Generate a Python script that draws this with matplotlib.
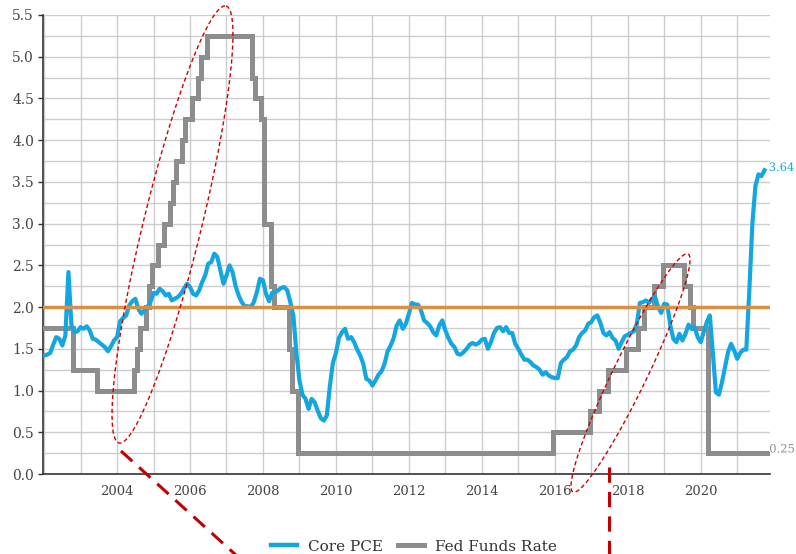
import numpy as np
import matplotlib
matplotlib.use("Agg")
import matplotlib.pyplot as plt
from matplotlib.lines import Line2D
import matplotlib.patheffects as pe

# ---- data -----------------------------------------------------------------
start_year = 2002  # first monthly observation: January 2002

# Core PCE inflation, year over year (%), monthly from Jan 2002
core_pce = [
    1.42, 1.43, 1.45, 1.55, 1.64, 1.62, 1.54, 1.66, 2.42, 1.78, 1.70, 1.71,  # 2002
    1.76, 1.74, 1.77, 1.72, 1.62, 1.61, 1.58, 1.55, 1.52, 1.47, 1.53, 1.60,  # 2003
    1.64, 1.83, 1.87, 1.90, 2.02, 2.07, 2.10, 1.98, 1.92, 1.96, 2.00, 2.06,  # 2004
    2.17, 2.16, 2.22, 2.19, 2.14, 2.16, 2.08, 2.10, 2.12, 2.16, 2.22, 2.28,  # 2005
    2.24, 2.16, 2.14, 2.20, 2.30, 2.38, 2.52, 2.54, 2.64, 2.60, 2.44, 2.28,  # 2006
    2.38, 2.50, 2.42, 2.25, 2.14, 2.06, 2.01, 2.01, 2.00, 2.06, 2.18, 2.34,  # 2007
    2.32, 2.16, 2.07, 2.17, 2.18, 2.20, 2.23, 2.24, 2.20, 2.06, 1.90, 1.45,  # 2008
    1.12, 0.95, 0.90, 0.78, 0.90, 0.86, 0.76, 0.67, 0.64, 0.70, 1.05, 1.33,  # 2009
    1.45, 1.63, 1.70, 1.74, 1.62, 1.64, 1.58, 1.49, 1.42, 1.32, 1.14, 1.12,  # 2010
    1.06, 1.12, 1.19, 1.23, 1.32, 1.47, 1.54, 1.63, 1.78, 1.84, 1.74, 1.80,  # 2011
    1.92, 2.05, 2.03, 2.03, 1.96, 1.84, 1.81, 1.77, 1.70, 1.66, 1.78, 1.84,  # 2012
    1.72, 1.63, 1.56, 1.52, 1.44, 1.43, 1.46, 1.50, 1.55, 1.57, 1.55, 1.57,  # 2013
    1.61, 1.62, 1.50, 1.58, 1.69, 1.75, 1.76, 1.71, 1.76, 1.69, 1.69, 1.56,  # 2014
    1.50, 1.43, 1.37, 1.37, 1.34, 1.30, 1.28, 1.25, 1.19, 1.22, 1.18, 1.16,  # 2015
    1.15, 1.15, 1.33, 1.37, 1.40, 1.47, 1.49, 1.54, 1.64, 1.69, 1.72, 1.80,  # 2016
    1.82, 1.88, 1.90, 1.81, 1.69, 1.66, 1.70, 1.63, 1.60, 1.50, 1.58, 1.65,  # 2017
    1.67, 1.69, 1.71, 1.80, 2.05, 2.06, 2.08, 2.05, 2.10, 2.12, 2.00, 1.93,  # 2018
    2.04, 2.03, 1.78, 1.62, 1.58, 1.68, 1.60, 1.68, 1.79, 1.74, 1.76, 1.64,  # 2019
    1.58, 1.70, 1.82, 1.90, 1.45, 0.98, 0.95, 1.10, 1.28, 1.46, 1.56, 1.48,  # 2020
    1.38, 1.45, 1.49, 1.49, 2.20, 3.00, 3.45, 3.59, 3.57, 3.64,              # 2021
]

# Fed funds target rate (%): level and number of months it was held
fed_levels = [1.75, 1.25, 1.00, 1.25, 1.50, 1.75, 2.00, 2.25, 2.50, 2.75,
              3.00, 3.25, 3.50, 3.75, 4.00, 4.25, 4.50, 4.75, 5.00, 5.25,
              4.75, 4.50, 4.25, 3.00, 2.25, 2.00, 1.50, 1.00, 0.25, 0.50,
              0.75, 1.00, 1.25, 1.50, 1.75, 2.00, 2.25, 2.50, 2.25, 2.00,
              1.75, 0.25]
fed_months = [10, 8, 12, 1, 1, 2, 1, 1, 2, 2,
              2, 1, 1, 2, 1, 2, 2, 1, 2, 15,
              1, 2, 1, 2, 1, 5, 1, 2, 84, 12,
              3, 3, 6, 4, 2, 3, 3, 7, 2, 1,
              5, 21]

inflation_target = 2.0

year_ticks = [2004, 2006, 2008, 2010, 2012, 2014, 2016, 2018, 2020]
rate_ticks = [0.0, 0.5, 1.0, 1.5, 2.0, 2.5, 3.0, 3.5, 4.0, 4.5, 5.0, 5.5]

# ---- derived series ---------------------------------------------------------
fed_rate = np.repeat(fed_levels, fed_months)
pce_x = start_year + np.arange(len(core_pce)) / 12.0
fed_x = start_year + np.arange(len(fed_rate)) / 12.0

# ---- style ----------------------------------------------------------------
plt.rcParams["font.family"] = ["DejaVu Serif"]
BLUE = "#14a6e0"
GRAY = "#8d8d8d"
ORANGE = "#d98f44"
RED = "#cc0000"
TEXT = "#444444"

W, H = 796, 554
fig = plt.figure(figsize=(W / 100, H / 100), dpi=100)
ax = fig.add_axes([43 / W, 1 - 474 / H, (770 - 43) / W, (474 - 15) / H])

ax.plot(fed_x, fed_rate, color=GRAY, lw=3.6, drawstyle="steps-mid",
        solid_joinstyle="miter", zorder=3, label="Fed Funds Rate")
ax.plot(pce_x, core_pce, color=BLUE, lw=3.0, zorder=4, label="Core PCE",
        solid_joinstyle="round")
ax.axhline(inflation_target, color=ORANGE, lw=2.5, zorder=5)

ax.set_xlim(2001.97, 2021.9)
ax.set_ylim(0, 5.5)

ax.set_xticks(year_ticks)
ax.set_xticks(np.arange(2002, 2022), minor=True)
ax.set_yticks(rate_ticks)
ax.set_yticks(np.arange(0, 5.51, 0.25), minor=True)
ax.set_yticklabels([f"{v:.1f}" for v in rate_ticks])
ax.grid(True, which="both", color="#cccccc", lw=1.0, zorder=0)
ax.set_axisbelow(True)

for side in ("top", "right"):
    ax.spines[side].set_visible(False)
for side in ("left", "bottom"):
    ax.spines[side].set_color("#333333")
    ax.spines[side].set_linewidth(1.2)

ax.tick_params(axis="x", which="both", length=0, pad=8, labelsize=9.5,
               labelcolor=TEXT)
ax.tick_params(axis="y", which="major", length=3.5, width=1.0, color="#333333",
               pad=3, labelsize=10, labelcolor=TEXT)
ax.tick_params(axis="y", which="minor", length=0)

# end-of-series value labels
halo = [pe.withStroke(linewidth=1.5, foreground="white")]
ax.annotate(f"{core_pce[-1]:.2f}", xy=(pce_x[-1], core_pce[-1]),
            xytext=(3, 2), textcoords="offset points", color=BLUE,
            fontsize=8.3, ha="left", va="center", annotation_clip=False,
            path_effects=halo)
ax.annotate(f"{fed_rate[-1]:.2f}", xy=(fed_x[-1], fed_rate[-1]),
            xytext=(-1, 3), textcoords="offset points", color=GRAY,
            fontsize=8.3, ha="left", va="center", annotation_clip=False,
            path_effects=halo)


# ---- hand-drawn highlights (figure pixel space) ----------------------------
def px_line(xs, ys, **kw):
    fx = np.asarray(xs) / W
    fy = 1 - np.asarray(ys) / H
    fig.add_artist(Line2D(fx, fy, transform=fig.transFigure, **kw))


def px_ellipse(p0, p1, semi_minor, **kw):
    (x0, y0), (x1, y1) = p0, p1
    cx, cy = (x0 + x1) / 2, (y0 + y1) / 2
    ang = np.arctan2(y1 - y0, x1 - x0)
    a = np.hypot(x1 - x0, y1 - y0) / 2
    t = np.linspace(0, 2 * np.pi, 400)
    ex = a * np.cos(t)
    ey = semi_minor * np.sin(t)
    xs = cx + ex * np.cos(ang) - ey * np.sin(ang)
    ys = cy + ex * np.sin(ang) + ey * np.cos(ang)
    px_line(xs, ys, **kw)


thin = dict(color=RED, lw=1.0, linestyle=(0, (3, 2)), zorder=10)
px_ellipse((119, 443), (226, 6), 29, **thin)
px_ellipse((573, 492), (688, 254), 17, **thin)

thick = dict(color="#c00000", lw=2.2, linestyle=(0, (5, 3)), zorder=10)
px_line([121, 237], [451, 556], **thick)
px_line([609, 609], [467, 556], **thick)

# ---- legend ----------------------------------------------------------------
handles = [Line2D([], [], color=BLUE, lw=3.2),
           Line2D([], [], color=GRAY, lw=3.6)]
fig.legend(handles, ["Core PCE", "Fed Funds Rate"], loc="center",
           bbox_to_anchor=(0.52, 0.013), ncol=2, frameon=False,
           fontsize=11, handlelength=1.7, columnspacing=1.0,
           handletextpad=0.7, labelcolor="#333333")

fig.savefig("out.png", dpi=100)
